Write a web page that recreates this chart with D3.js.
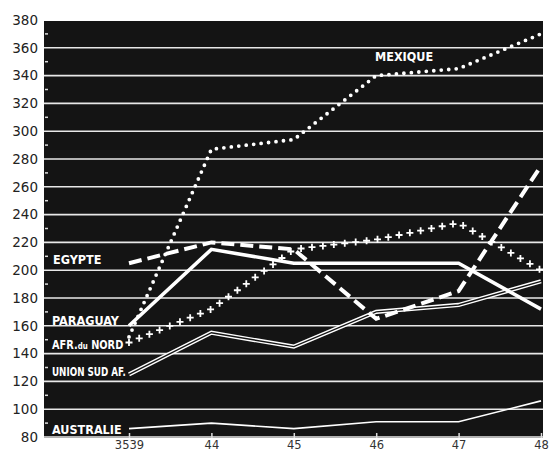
<!DOCTYPE html>
<html>
<head>
<meta charset="utf-8">
<script src="https://cdn.jsdelivr.net/npm/d3@7"></script>
<style>
  body { margin: 0; background: #fff; }
  svg { display: block; }
</style>
</head>
<body>
<svg></svg>
<script>
// Set up dimensions
const width = 550, height = 454;
const margin = { top: 21, right: 7, bottom: 16, left: 44 };

// Data
const years = ["3539", "44", "45", "46", "47", "48"];
const mexique = [152, 287, 294, 340, 345, 370];
const egypte = [205, 220, 215, 165, 185, 275];
const paraguay = [160, 215, 205, 205, 205, 172];
const afrNord = [148, 172, 215, 222, 234, 200];
const unionSud = [125, 155, 145, 170, 175, 192];
const australie = [86, 90, 86, 91, 91, 106];
const yTicks = d3.range(80, 381, 20);

const svg = d3.select("svg")
    .attr("width", width)
    .attr("height", height);

// Scales
const xScale = d3.scalePoint().domain(years).range([129, 541]);
const yScale = d3.scaleLinear().domain([80, 380]).range([437, 20]);

const plotBottom = height - margin.bottom;

// Black plot area
svg.append("rect")
    .attr("x", margin.left)
    .attr("y", margin.top)
    .attr("width", width - margin.left - margin.right)
    .attr("height", plotBottom - margin.top)
    .attr("fill", "#141414");

// Gridlines
svg.append("g")
    .selectAll("line")
    .data(yTicks.filter(d => d < 380))
    .join("line")
    .attr("x1", margin.left)
    .attr("x2", width - margin.right)
    .attr("y1", d => yScale(d))
    .attr("y2", d => yScale(d))
    .attr("stroke", "#e8e8e8")
    .attr("stroke-width", 1.6);

// Minor ticks on left edge
svg.append("g")
    .selectAll("line")
    .data(d3.range(90, 380, 20))
    .join("line")
    .attr("x1", margin.left + 1)
    .attr("x2", margin.left + 4)
    .attr("y1", d => yScale(d))
    .attr("y2", d => yScale(d))
    .attr("stroke", "#ddd")
    .attr("stroke-width", 1.5);

// Y axis labels
const yAxis = svg.append("g")
    .attr("transform", `translate(${margin.left},0)`)
    .call(d3.axisLeft(yScale).tickValues(yTicks).tickSize(0).tickPadding(6));
yAxis.select(".domain").remove();
yAxis.selectAll("text")
    .style("font-family", "'DejaVu Sans', sans-serif")
    .style("font-size", "13.5px")
    .attr("fill", "#222");

// X axis tick marks (inside the plot) and labels
const xAxis = svg.append("g")
    .attr("transform", `translate(0,${plotBottom})`)
    .call(d3.axisBottom(xScale).tickSize(-5).tickPadding(3));
xAxis.select(".domain").remove();
xAxis.selectAll("line").attr("stroke", "#ddd").attr("stroke-width", 1.5);
xAxis.selectAll("text")
    .style("font-family", "'DejaVu Sans', sans-serif")
    .style("font-size", "11.5px")
    .attr("fill", "#333");

const line = d3.line()
    .x((d, i) => xScale(years[i]))
    .y(d => yScale(d));

const lines = svg.append("g").attr("fill", "none").attr("stroke", "#fff");

// Australie: thin line
lines.append("path").attr("d", line(australie)).attr("stroke-width", 1.6);

// Union Sud Af: double line
lines.append("path").attr("d", line(unionSud)).attr("stroke-width", 4.2);
lines.append("path").attr("d", line(unionSud)).attr("stroke", "#141414").attr("stroke-width", 1.4);

// Paraguay: solid thick line
lines.append("path").attr("d", line(paraguay)).attr("stroke-width", 3.6);

// Egypte: dashed
lines.append("path").attr("d", line(egypte))
    .attr("stroke-width", 4)
    .attr("stroke-dasharray", "13 6");

// Mexique: dotted
lines.append("path").attr("d", line(mexique))
    .attr("stroke-width", 3.8)
    .attr("stroke-linecap", "round")
    .attr("stroke-dasharray", "0 7.5");

// Afr du Nord: crosses along the path
const afrPath = lines.append("path").attr("d", line(afrNord))
    .attr("stroke-width", 0);
const node = afrPath.node();
const total = node.getTotalLength();
const crosses = d3.range(0, total, 11).map(l => node.getPointAtLength(l));
svg.append("g")
    .selectAll("path")
    .data(crosses)
    .join("path")
    .attr("d", d => `M${d.x - 3.5},${d.y}H${d.x + 3.5}M${d.x},${d.y - 3.5}V${d.y + 3.5}`)
    .attr("stroke", "#fff")
    .attr("stroke-width", 1.8);

// Series labels (sx squeezes the narrow lettering of the original)
const labels = [
    { parts: ["MEXIQUE"], x: 375, y: 61, sx: 1 },
    { parts: ["EGYPTE"], x: 53, y: 264, sx: 1 },
    { parts: ["PARAGUAY"], x: 52, y: 325, sx: 1 },
    { parts: ["AFR.", "du", " NORD"], x: 52, y: 349, sx: 0.87 },
    { parts: ["UNION SUD AF."], x: 52, y: 376, sx: 0.78 },
    { parts: ["AUSTRALIE"], x: 52, y: 434, sx: 1 }
];
svg.append("g")
    .selectAll("text")
    .data(labels)
    .join("text")
    .attr("transform", d => `translate(${d.x},${d.y}) scale(${d.sx},1)`)
    .attr("fill", "#fff")
    .style("font-family", "'Liberation Sans Narrow', 'DejaVu Sans Condensed', sans-serif")
    .style("font-stretch", "condensed")
    .style("font-weight", "bold")
    .style("font-size", "12.5px")
    .selectAll("tspan")
    .data(d => d.parts)
    .join("tspan")
    .style("font-size", t => t === "du" ? "9px" : null)
    .text(t => t);
</script>
</body>
</html>
